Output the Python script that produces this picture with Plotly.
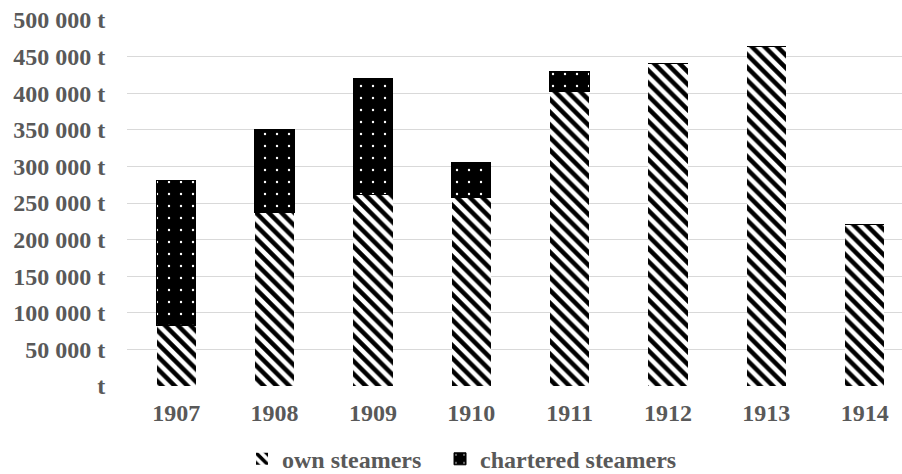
import plotly.graph_objects as go

# Annual tonnage carried, split by own and chartered steamers
years = ["1907", "1908", "1909", "1910", "1911", "1912", "1913", "1914"]
own_steamers = [82000, 237000, 262000, 257000, 402000, 440000, 464000, 220000]
chartered_steamers = [199000, 113000, 158000, 48000, 28000, 0, 0, 0]

y_tickvals = [0, 50000, 100000, 150000, 200000, 250000, 300000, 350000, 400000, 450000, 500000]
y_ticktext = ["t", "50 000 t", "100 000 t", "150 000 t", "200 000 t", "250 000 t",
              "300 000 t", "350 000 t", "400 000 t", "450 000 t", "500 000 t"]

FONT = "Liberation Serif"
TEXT_COLOR = "#595959"
GRID = "#d9d9d9"
FSIZE = 24

fig = go.Figure()
fig.add_trace(go.Bar(
    x=years, y=own_steamers, name="own steamers",
    width=0.4, legend="legend",
    marker=dict(
        color="white",
        line=dict(width=0),
        pattern=dict(shape="\\", fgcolor="black", bgcolor="white", fgopacity=1,
                     size=9, solidity=0.5, fillmode="overlay"),
    ),
))
fig.add_trace(go.Bar(
    x=years, y=chartered_steamers, name="chartered steamers",
    width=0.4, legend="legend2",
    marker=dict(
        color="black",
        line=dict(width=1, color="black"),
        pattern=dict(shape=".", fgcolor="white", bgcolor="black", fgopacity=1,
                     size=12, solidity=0.03, fillmode="overlay"),
    ),
))

legend_style = dict(
    orientation="h",
    xanchor="left",
    y=-0.2, yanchor="middle",
    font=dict(family=FONT, size=FSIZE, color=TEXT_COLOR, weight="bold"),
    itemwidth=30,
    bgcolor="rgba(0,0,0,0)",
)

fig.update_layout(
    barmode="stack",
    width=902, height=474,
    margin=dict(l=127, r=0, t=20, b=88, autoexpand=False),
    paper_bgcolor="white",
    plot_bgcolor="white",
    font=dict(family=FONT, size=FSIZE, color=TEXT_COLOR),
    showlegend=True,
    legend=dict(x=0.1484, **legend_style),
    legend2=dict(x=0.4039, **legend_style),
    xaxis=dict(
        range=[-0.5, 7.38],
        showgrid=False,
        showline=False,
        zeroline=False,
        ticks="outside", ticklen=5, tickcolor="rgba(0,0,0,0)",
        tickfont=dict(family=FONT, size=FSIZE, color=TEXT_COLOR, weight="bold"),
    ),
    yaxis=dict(
        range=[0, 500000],
        tickvals=y_tickvals,
        ticktext=y_ticktext,
        showgrid=True, gridcolor=GRID, gridwidth=1,
        zeroline=False,
        showline=False,
        ticks="outside", ticklen=16, tickcolor="rgba(0,0,0,0)",
        tickfont=dict(family=FONT, size=FSIZE, color=TEXT_COLOR, weight="bold"),
    ),
)

fig.write_html("out.html")
